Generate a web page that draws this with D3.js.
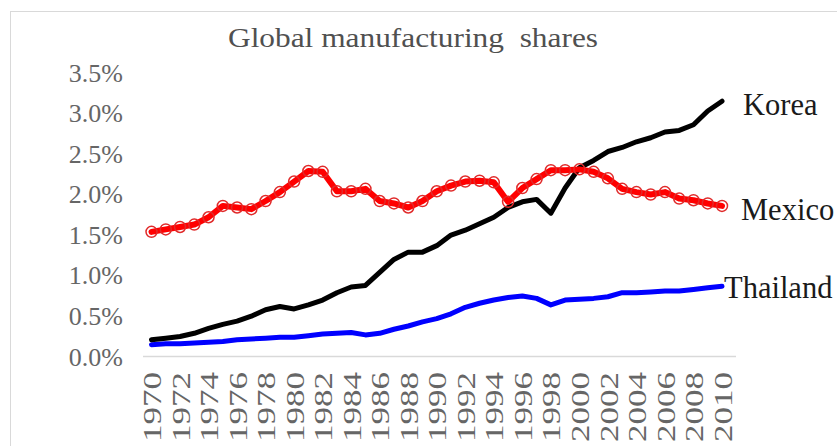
<!DOCTYPE html>
<html>
<head>
<meta charset="utf-8">
<script src="https://cdn.jsdelivr.net/npm/d3@7"></script>
<style>
  html, body { margin: 0; padding: 0; background: #fff; }
  svg { display: block; }
  text { font-family: "Liberation Serif", "Times New Roman", serif; }
</style>
</head>
<body>
<div id="chart"></div>
<script>
// ---- data ----
const years = d3.range(1970, 2011);
const tickYears = d3.range(1970, 2011, 2);
const yTicks = [0, 0.005, 0.01, 0.015, 0.02, 0.025, 0.03, 0.035];
const seriesNames = ["Korea", "Mexico", "Thailand"];
const korea = [0.20,0.22,0.24,0.28,0.34,0.39,0.43,0.49,0.57,0.61,
               0.58,0.63,0.69,0.78,0.85,0.87,1.03,1.19,1.28,1.28,
               1.36,1.49,1.55,1.63,1.71,1.83,1.90,1.93,1.76,2.07,
               2.32,2.41,2.52,2.57,2.64,2.69,2.76,2.78,2.85,3.02,3.14];
const mexico = [1.53,1.56,1.59,1.62,1.71,1.85,1.83,1.81,1.91,2.02,
                2.15,2.28,2.27,2.03,2.03,2.06,1.91,1.88,1.83,1.91,
                2.03,2.10,2.15,2.16,2.14,1.90,2.07,2.18,2.29,2.29,
                2.30,2.27,2.19,2.06,2.02,1.99,2.02,1.94,1.92,1.88,1.85];
const thailand = [0.14,0.15,0.15,0.16,0.17,0.18,0.20,0.21,0.22,0.23,
                  0.23,0.25,0.27,0.28,0.29,0.26,0.28,0.33,0.37,0.42,
                  0.46,0.52,0.60,0.65,0.69,0.72,0.74,0.71,0.63,0.69,
                  0.70,0.71,0.73,0.78,0.78,0.79,0.80,0.80,0.82,0.84,0.86];
const title = "Global manufacturing  shares";

// ---- layout ----
const W = 837, H = 446;
const svg = d3.select("#chart").append("svg").attr("width", W).attr("height", H);

svg.append("rect").attr("x", 10.5).attr("y", 11.5).attr("width", W).attr("height", H)
  .attr("fill", "#fff").attr("stroke", "#d9d9d9").attr("stroke-width", 1);

const x = d3.scalePoint().domain(years).range([151.5, 722]);
const y = d3.scaleLinear().domain([0, 0.035]).range([356, 72]);

// title
svg.append("text").attr("x", 413).attr("y", 47).attr("text-anchor", "middle")
  .attr("font-size", 28).attr("fill", "#505050")
  .attr("textLength", 370).attr("lengthAdjust", "spacingAndGlyphs")
  .style("white-space", "pre").text(title);

// y axis labels
const yAxis = d3.axisLeft(y).tickValues(yTicks).tickSize(0).tickPadding(0)
  .tickFormat(d3.format(".1%"));
const gy = svg.append("g").attr("transform", "translate(123,0)").call(yAxis);
gy.select(".domain").remove();
gy.selectAll("text").attr("font-size", 26).attr("fill", "#666666")
  .attr("font-family", "Liberation Serif").attr("dy", "0.35em");

// x axis line
svg.append("line").attr("x1", 143).attr("x2", 736).attr("y1", 356.5).attr("y2", 356.5)
  .attr("stroke", "#d9d9d9").attr("stroke-width", 1.5);

// x labels
const xAxis = d3.axisBottom(x).tickValues(tickYears).tickSize(0).tickPadding(0);
const gx = svg.append("g").attr("transform", "translate(0,442)").call(xAxis);
gx.select(".domain").remove();
gx.selectAll("text")
  .attr("font-size", 26).attr("fill", "#666666").attr("font-family", "Liberation Serif")
  .attr("transform", "rotate(-90)").attr("text-anchor", "start")
  .attr("x", 0).attr("y", 0).attr("dy", "0.35em")
  .attr("textLength", 70).attr("lengthAdjust", "spacingAndGlyphs");

// lines
const line = d3.line().x((d, i) => x(years[i])).y(d => y(d / 100));
const data = { Korea: korea, Mexico: mexico, Thailand: thailand };
const colors = { Korea: "#000000", Mexico: "#ff0000", Thailand: "#0000ff" };
const widths = { Korea: 5, Mexico: 6, Thailand: 5 };

["Thailand", "Korea", "Mexico"].forEach(name => {
  svg.append("path").datum(data[name]).attr("d", line)
    .attr("fill", "none").attr("stroke", colors[name]).attr("stroke-width", widths[name])
    .attr("stroke-linejoin", "round").attr("stroke-linecap", "round");
});

svg.append("g").selectAll("circle").data(mexico).join("circle")
  .attr("cx", (d, i) => x(years[i])).attr("cy", d => y(d / 100)).attr("r", 5.5)
  .attr("fill", "none").attr("stroke", "#e02a2a").attr("stroke-width", 1.5);

// series labels at line ends
const labelOffset = { Korea: [21, 3], Mexico: [19, 3], Thailand: [2, 1] };
seriesNames.forEach(name => {
  const arr = data[name];
  const lx = x(years[years.length - 1]) + labelOffset[name][0];
  const ly = y(arr[arr.length - 1] / 100) + labelOffset[name][1];
  svg.append("text").attr("x", lx).attr("y", ly).attr("dy", "0.35em")
    .attr("font-size", 30.5).attr("fill", "#1a1a1a").text(name);
});
</script>
</body>
</html>
